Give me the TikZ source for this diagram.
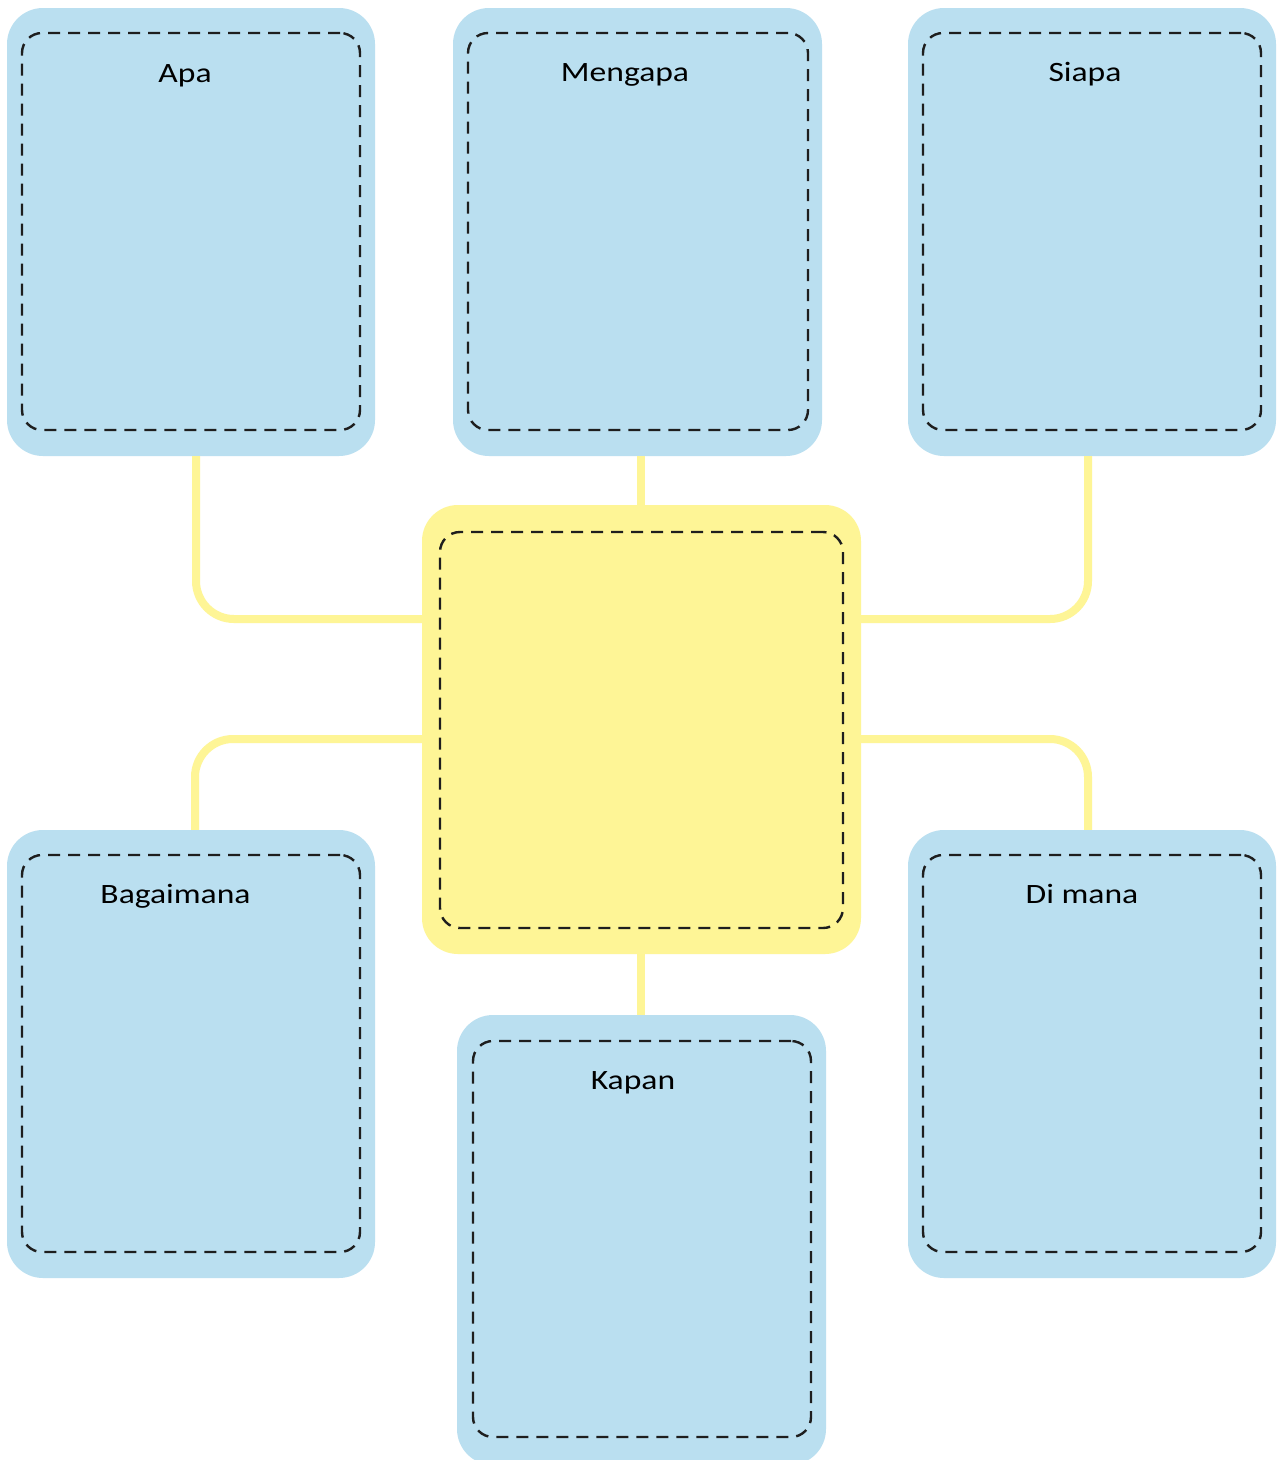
\documentclass[tikz,border=0pt]{standalone}
\usepackage{fontspec}
\setmainfont{Carlito}
\definecolor{boxblue}{RGB}{186,223,240}
\definecolor{boxyellow}{RGB}{254,245,150}
\definecolor{dashgray}{RGB}{30,30,30}
\tikzset{
  outerbox/.style={rectangle, fill=#1, draw=none, rounded corners=36pt, inner sep=0pt},
  innerbox/.style={rectangle, draw=dashgray, line width=2.4pt, dash pattern=on 12pt off 8pt, rounded corners=20pt, fill=none, inner sep=0pt},
  conn/.style={draw=boxyellow, line width=8pt, rounded corners=38pt},
  lbl/.style={anchor=base, inner sep=0pt, font=\fontsize{28}{30}\selectfont}
}
\newcommand{\wlbl}[1]{\scalebox{1.2}[1]{#1}}
\begin{document}
\begin{tikzpicture}[x=1pt,y=-1pt]
\useasboundingbox (0,0) rectangle (1278,1460);
\fill[white] (0,0) rectangle (1278,1460);
% connectors coordinates
\coordinate (aL) at (196,619);
\coordinate (sR) at (1088,619);
\coordinate (bL) at (195,739);
\coordinate (dR) at (1088,739);
\coordinate (midx) at (641,0);

% outer boxes
\node[outerbox=boxblue, minimum width=368pt, minimum height=448pt] (apa) at (191,232) {};
\node[outerbox=boxblue, minimum width=369pt, minimum height=448pt] (mengapa) at (637.5,232) {};
\node[outerbox=boxblue, minimum width=368pt, minimum height=448pt] (siapa) at (1092,232) {};
\node[outerbox=boxyellow, minimum width=439pt, minimum height=449pt] (center) at (641.5,729.5) {};
\node[outerbox=boxblue, minimum width=368pt, minimum height=448pt] (bagaimana) at (191,1054) {};
\node[outerbox=boxblue, minimum width=369pt, minimum height=450pt] (kapan) at (641.5,1240) {};
\node[outerbox=boxblue, minimum width=368pt, minimum height=448pt] (dimana) at (1092,1054) {};

% inner dashed boxes
\node[innerbox, minimum width=338pt, minimum height=397pt] (apaIn) at (191,231.5) {};
\node[innerbox, minimum width=340pt, minimum height=397pt] (mengapaIn) at (638,231.5) {};
\node[innerbox, minimum width=338pt, minimum height=397pt] (siapaIn) at (1092,231.5) {};
\node[innerbox, minimum width=403pt, minimum height=396pt] (centerIn) at (641.5,730) {};
\node[innerbox, minimum width=338pt, minimum height=397pt] (bagaimanaIn) at (191,1053.5) {};
\node[innerbox, minimum width=338pt, minimum height=396pt] (kapanIn) at (642,1239) {};
\node[innerbox, minimum width=338pt, minimum height=397pt] (dimanaIn) at (1092,1053.5) {};

% labels
\node[lbl] (tApa) at (185,82) {\wlbl{Apa}};
\node[lbl] (tMengapa) at (625,81) {\wlbl{Mengapa}};
\node[lbl] (tSiapa) at (1085,81) {\wlbl{Siapa}};
\node[lbl] (tBagaimana) at (175.5,903) {\wlbl{Bagaimana}};
\node[lbl] (tKapan) at (633,1089) {\wlbl{Kapan}};
\node[lbl] (tDimana) at (1082,903) {\wlbl{Di mana}};

% connectors
\draw[conn] (apa.south -| aL) |- (center.west |- aL);
\draw[conn] (siapa.south -| sR) |- (center.east |- sR);
\draw[conn] (bagaimana.north -| bL) |- (center.west |- bL);
\draw[conn] (dimana.north -| dR) |- (center.east |- dR);
\draw[conn] (mengapa.south -| midx) -- (center.north -| midx);
\draw[conn] (center.south -| midx) -- (kapan.north -| midx);
\end{tikzpicture}
\end{document}
